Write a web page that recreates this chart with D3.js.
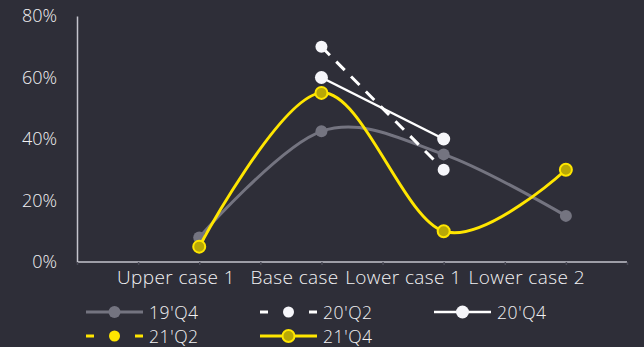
<!DOCTYPE html>
<html>
<head>
<meta charset="utf-8">
<script src="https://cdn.jsdelivr.net/npm/d3@7"></script>
<style>
  html, body { margin: 0; padding: 0; background: #2e2e38; }
  svg { display: block; }
  text { font-family: "Open Sans", "Noto Sans", sans-serif; font-weight: 300; fill: #f2f2f4; }
</style>
</head>
<body>
<svg id="chart" width="644" height="347"></svg>
<script>
// Scenario categories along the x axis
const categories = ["Upper case 1", "Base case", "Lower case 1", "Lower case 2"];

// Share per scenario for each survey period (null = not surveyed)
const s19Q4 = [0.08, 0.425, 0.35, 0.15];
const s20Q2 = [null, 0.70, 0.30, null];
const s20Q4 = [null, 0.60, 0.40, null];
const s21Q2 = [null, null, null, null];
const s21Q4 = [0.05, 0.55, 0.10, 0.30];

const yTicks = [0, 0.2, 0.4, 0.6, 0.8];

const series = [
  { name: "19'Q4", values: s19Q4, color: "#747480", width: 3, dash: null, smooth: true,
    markFill: "#747480", markStroke: "#747480", r: 6 },
  { name: "20'Q2", values: s20Q2, color: "#ffffff", width: 3, dash: "12,9", smooth: false,
    markFill: "#f6f6fa", markStroke: "#f6f6fa", r: 6 },
  { name: "20'Q4", values: s20Q4, color: "#ffffff", width: 2.5, dash: null, smooth: false,
    markFill: "#f6f6fa", markStroke: "#f6f6fa", r: 6.5 },
  { name: "21'Q2", values: s21Q2, color: "#ffe600", width: 3, dash: "8,8", smooth: false,
    markFill: "#ffe600", markStroke: "#ffe600", r: 6 },
  { name: "21'Q4", values: s21Q4, color: "#ffe600", width: 3, dash: null, smooth: true,
    markFill: "#b8a806", markStroke: "#ffe600", r: 6 }
];

const svg = d3.select("#chart");

// Category positions on a continuous index scale; the axis starts one step before
// the first scenario and ends half a step after the last one.
const x = d3.scaleLinear().domain([-1, categories.length - 0.5]).range([77, 627]);
const y = d3.scaleLinear().domain([0, 0.8]).range([262, 16]);

// y axis
const yAxis = d3.axisLeft(y).tickValues(yTicks).tickFormat(d3.format(".0%")).tickSize(0).tickPadding(20);
const gy = svg.append("g").attr("transform", `translate(${x(-1)},0)`).call(yAxis);
gy.select(".domain").attr("stroke", "#c4c4cd").attr("stroke-width", 1.5);
gy.selectAll("text").attr("font-size", 18).attr("fill", "#f2f2f4")
  .attr("font-family", "Open Sans, Noto Sans, sans-serif").attr("font-weight", 300);

// x axis: faint ticks on every half step, labels at scenario positions
const halfSteps = d3.range(-1, categories.length - 0.5 + 0.01, 0.5);
const xAxis = d3.axisBottom(x).tickValues(halfSteps).tickSize(3).tickFormat("");
const gx = svg.append("g").attr("transform", `translate(0,${y(0)})`).call(xAxis);
gx.select(".domain").attr("stroke", "#c4c4cd").attr("stroke-width", 1.5).attr("d", `M${x(-1)},0H${x(categories.length - 0.5)}`);
gx.selectAll(".tick line").attr("stroke", "#4a4a56").attr("stroke-width", 1.5);

// category labels sit slightly left of their scenario points
const labelShift = [-0.19, -0.22, -0.33, -0.32];
svg.append("g").selectAll("text").data(categories).join("text")
  .attr("x", (d, i) => x(i + labelShift[i]))
  .attr("y", 284)
  .attr("text-anchor", "middle")
  .attr("font-size", 19)
  .attr("letter-spacing", 0.4)
  .text(d => d);

// series lines and markers
const plot = svg.append("g");
series.forEach(s => {
  const pts = s.values.map((v, i) => ({ i, v }));
  const line = d3.line()
    .defined(d => d.v !== null)
    .x(d => x(d.i))
    .y(d => y(d.v))
    .curve(s.smooth ? d3.curveCardinal.tension(0) : d3.curveLinear);
  plot.append("path")
    .datum(pts)
    .attr("d", line)
    .attr("fill", "none")
    .attr("stroke", s.color)
    .attr("stroke-width", s.width)
    .attr("stroke-dasharray", s.dash)
    .attr("stroke-linejoin", "round");
  plot.append("g").selectAll("circle").data(pts.filter(d => d.v !== null)).join("circle")
    .attr("cx", d => x(d.i))
    .attr("cy", d => y(d.v))
    .attr("r", s.r)
    .attr("fill", s.markFill)
    .attr("stroke", s.markStroke)
    .attr("stroke-width", s.markStroke === s.markFill ? 0 : 2);
});

// legend
const legendPos = [
  { x: 86, y: 312 }, { x: 260, y: 312 }, { x: 434, y: 312 },
  { x: 86, y: 336 }, { x: 260, y: 336 }
];
const lg = svg.append("g");
series.forEach((s, k) => {
  const p = legendPos[k];
  const g = lg.append("g").attr("transform", `translate(${p.x},${p.y})`);
  if (s.dash) {
    [[0, 8], [49, 57]].forEach(([a, b]) => {
      g.append("line").attr("x1", a).attr("x2", b).attr("y1", 0).attr("y2", 0)
        .attr("stroke", s.color).attr("stroke-width", s.width);
    });
  } else {
    g.append("line").attr("x1", 0).attr("x2", 57).attr("y1", 0).attr("y2", 0)
      .attr("stroke", s.color).attr("stroke-width", s.width);
  }
  g.append("circle").attr("cx", 28.5).attr("cy", 0).attr("r", s.dash ? 5.5 : s.r)
    .attr("fill", s.markFill).attr("stroke", s.markStroke)
    .attr("stroke-width", s.markStroke === s.markFill ? 0 : 2);
  g.append("text").attr("x", 63).attr("y", 7).attr("font-size", 17.5)
    .attr("letter-spacing", 0.6).text(s.name);
});
</script>
</body>
</html>
